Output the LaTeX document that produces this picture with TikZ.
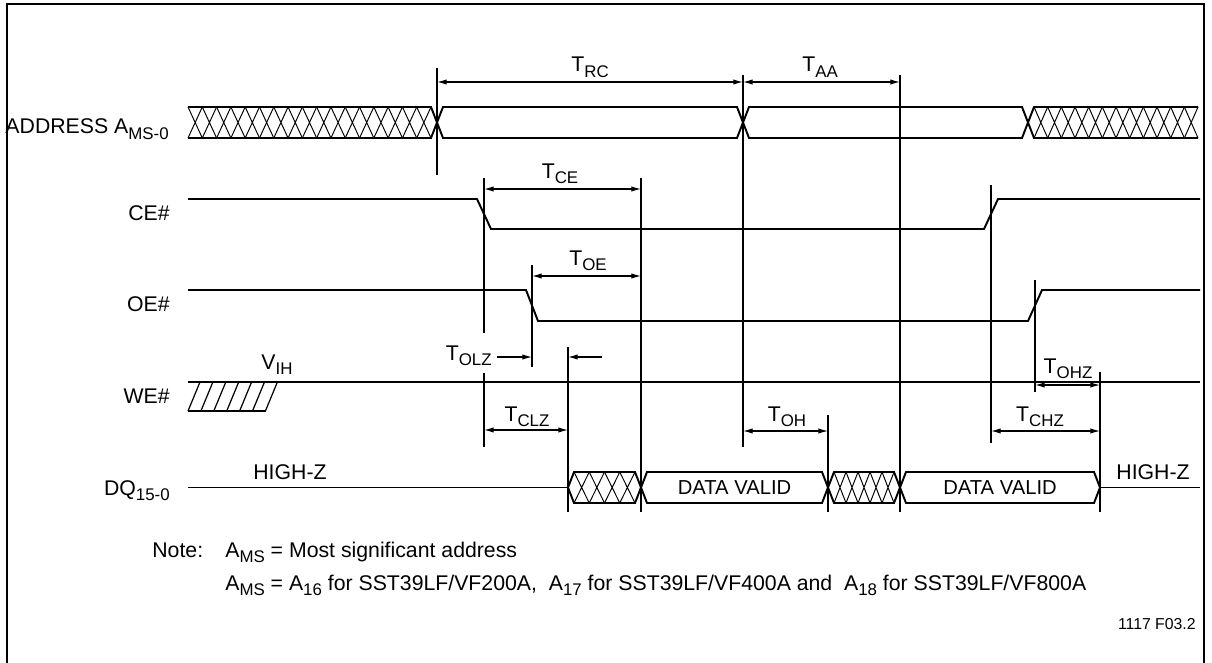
\documentclass[tikz,border=0pt]{standalone}
\usepackage{fontspec}
\setmainfont{Liberation Sans}
\usetikzlibrary{arrows.meta}

% lowered small index, as in T_RC
\newcommand\lo[1]{\raisebox{-0.24em}{\fontsize{9.6}{11}\selectfont #1}}
% crossed (don't care) bus filling
\newcommand\xhatch[5]{%
  \foreach \k in {1,...,#5}{%
    \pgfmathsetmacro\xa{#1+(\k-1)*(#2-#1)/#5}%
    \pgfmathsetmacro\xb{#1+\k*(#2-#1)/#5}%
    \draw[hatch] (\xa,#3) -- (\xb,#4) (\xa,#4) -- (\xb,#3);
  }}

\tikzset{
  wave/.style={line width=1.1pt,line join=miter},
  hatch/.style={line width=0.55pt},
  vline/.style={line width=0.7pt},
  dim/.style={line width=0.6pt,{Latex[length=5.5pt,width=3pt]}-{Latex[length=5.5pt,width=3pt]}},
  dimr/.style={line width=0.6pt,-{Latex[length=5.5pt,width=3pt]}},
  lbl/.style={font=\fontsize{12.1}{14}\selectfont,inner sep=0pt},
  slbl/.style={font=\fontsize{11.5}{13}\selectfont,inner sep=0pt},
}

\begin{document}
\begin{tikzpicture}[x=0.02cm,y=-0.02cm]
\clip (0,0) rectangle (1212,662);
\draw[line width=1pt] (7,700) -- (7,4) -- (1204,4) -- (1204,700);

% signal names
\node[lbl,anchor=base east] (addr) at (169,134) {ADDRESS A\lo{MS-0}};
\node[lbl,anchor=base east] (ce) at (170,220) {CE\#};
\node[lbl,anchor=base east] (oe) at (170,311) {OE\#};
\node[lbl,anchor=base east] (we) at (170,403) {WE\#};
\node[lbl,anchor=base east] (dq) at (170,495) {DQ\lo{15-0}};

% address bus
\draw[wave] (188,107) -- (431,107) -- (437,122.5) -- (431,138) -- (188,138);
\xhatch{188}{431}{107}{138}{17}
\draw[wave] (437,122.5) -- (443,107) -- (737,107) -- (743,122.5) -- (737,138) -- (443,138) -- cycle;
\draw[wave] (743,122.5) -- (749,107) -- (1022,107) -- (1028,122.5) -- (1022,138) -- (749,138) -- cycle;
\draw[wave] (1198,107) -- (1034,107) -- (1028,122.5) -- (1034,138) -- (1198,138);
\xhatch{1034}{1198}{107}{138}{12}

% CE#, OE#
\draw[wave] (188,199) -- (477,199) -- (491,229) -- (984,229) -- (998,199) -- (1200,199);
\draw[wave] (188,290) -- (526,290) -- (538,321) -- (1028,321) -- (1042,290) -- (1200,290);

% WE#
\draw[wave] (188,382) -- (1200,382);
\draw[wave] (188,411) -- (266,411);
\foreach \k in {0,...,6}
  \draw[hatch,line width=0.7pt] ({188+12.9*\k},411) -- ({200+12.9*\k},382);
\node[lbl,anchor=base] (vih) at (277,369) {V\lo{IH}};

% DQ
\draw[wave] (188,487.5) -- (568,487.5);
\draw[wave] (568,487.5) -- (574,472) -- (635,472) -- (641,487.5) -- (635,503) -- (574,503) -- cycle;
\xhatch{574}{635}{472}{503}{4}
\draw[wave] (641,487.5) -- (647,472) -- (822,472) -- (828,487.5) -- (822,503) -- (647,503) -- cycle;
\draw[wave] (828,487.5) -- (834,472) -- (894,472) -- (900,487.5) -- (894,503) -- (834,503) -- cycle;
\xhatch{834}{894}{472}{503}{5}
\draw[wave] (900,487.5) -- (906,472) -- (1094,472) -- (1100,487.5) -- (1094,503) -- (906,503) -- cycle;
\draw[wave] (1100,487.5) -- (1200,487.5);
\node[slbl] (dv1) at (734.5,488) {DATA VALID};
\node[slbl] (dv2) at (1000,488) {DATA VALID};
\node[lbl,anchor=base] (hz1) at (290,479) {HIGH-Z};
\node[lbl,anchor=base] (hz2) at (1153,479) {HIGH-Z};

% timing marks
\draw[vline] (437,68) -- (437,175);
\draw[vline] (743,75) -- (743,447);
\draw[vline] (900,75) -- (900,512);
\draw[vline] (484,178) -- (484,333) (484,373) -- (484,447);
\draw[vline] (641,178) -- (641,512);
\draw[vline] (532,265) -- (532,367);
\draw[vline] (568,347) -- (568,512);
\draw[vline] (828,415) -- (828,512);
\draw[vline] (991,185) -- (991,443);
\draw[vline] (1035,280) -- (1035,392);
\draw[vline] (1100,372) -- (1100,512);

% dimension arrows
\coordinate (rc1) at (437,82);
\coordinate (rc2) at (743,82);
\coordinate (aa2) at (900,82);
\coordinate (ce1) at (484,189);
\coordinate (ce2) at (641,189);
\coordinate (oe1) at (532,276);
\coordinate (oe2) at (641,276);
\coordinate (olz1) at (497,357);
\coordinate (olz2) at (532,357);
\coordinate (olz3) at (602,357);
\coordinate (olz4) at (568,357);
\coordinate (clz1) at (484,430);
\coordinate (clz2) at (568,430);
\coordinate (oh1) at (743,431);
\coordinate (oh2) at (828,431);
\coordinate (chz1) at (991,431);
\coordinate (chz2) at (1100,431);
\coordinate (ohz1) at (1035,385);
\coordinate (ohz2) at (1100,385);

\draw[dim] (rc1) -- (rc2);
\draw[dim] (rc2) -- (aa2);
\draw[dim] (ce1) -- (ce2);
\draw[dim] (oe1) -- (oe2);
\draw[dimr] (olz1) -- (olz2);
\draw[dimr] (olz3) -- (olz4);
\draw[dim] (clz1) -- (clz2);
\draw[dim] (oh1) -- (oh2);
\draw[dim] (chz1) -- (chz2);
\draw[dim] (ohz1) -- (ohz2);

\node[lbl,anchor=base] (trc) at (590,72) {T\lo{RC}};
\node[lbl,anchor=base] (taa) at (820,72) {T\lo{AA}};
\node[lbl,anchor=base] (tce) at (560,178) {T\lo{CE}};
\node[lbl,anchor=base] (toe) at (588,265) {T\lo{OE}};
\node[lbl,anchor=base east] (tolz) at (492,360) {T\lo{OLZ}};
\node[lbl,anchor=base] (tclz) at (527,421) {T\lo{CLZ}};
\node[lbl,anchor=base] (toh) at (787,421) {T\lo{OH}};
\node[lbl,anchor=base] (tchz) at (1040,421) {T\lo{CHZ}};
\node[lbl,anchor=base] (tohz) at (1068,373) {T\lo{OHZ}};

% note
\node[lbl,anchor=base west] (note) at (152,557) {Note:};
\node[lbl,anchor=base west] (ams) at (225,557) {A\lo{MS} = Most significant address};
\node[lbl,anchor=base west] (amsb) at (225,590)
  {A\lo{MS} = A\lo{16} for SST39LF/VF200A,\ \ A\lo{17} for SST39LF/VF400A and\ \ A\lo{18} for SST39LF/VF800A};
\node[inner sep=0pt,anchor=base east,font=\fontsize{9}{10}\selectfont] (fig) at (1196,629) {1117 F03.2};
\end{tikzpicture}
\end{document}
